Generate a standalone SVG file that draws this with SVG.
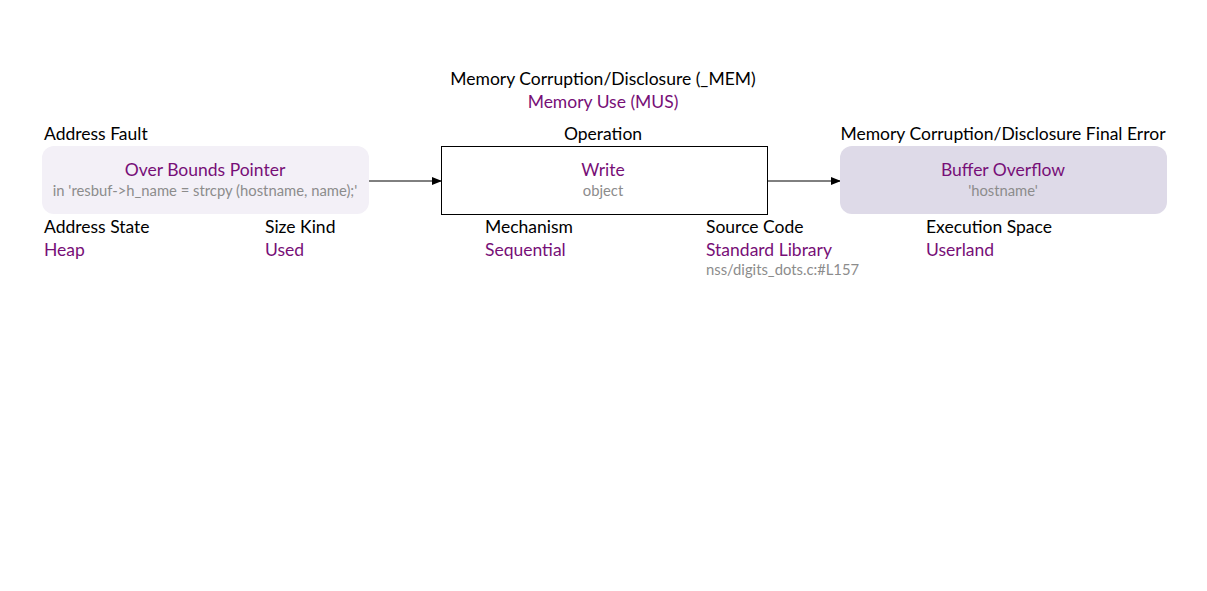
<svg xmlns="http://www.w3.org/2000/svg" width="1207" height="591" viewBox="0 0 1207 591">
<style>
text{font-family:Lato,"Liberation Sans",sans-serif}
.h{font-size:17.5px;fill:#000}
.v{font-size:17.5px;fill:#770f77}
.s{font-size:14.8px;fill:#8c8c8c}
.m{text-anchor:middle}
.c{stroke:#000;stroke-width:1;fill:none}
</style>
<defs>
<marker id="ah" markerWidth="10" markerHeight="8" refX="9" refY="4" orient="auto" markerUnits="userSpaceOnUse">
<path d="M0,0 L10,4 L0,8 Z" fill="#000"/>
</marker>
</defs>
<rect width="1207" height="591" fill="#fff"/>
<g id="header">
<text class="h m" x="603" y="85">Memory Corruption/Disclosure (_MEM)</text>
<text class="v m" x="603" y="108">Memory Use (MUS)</text>
</g>
<g id="connectors">
<line class="c" x1="369" y1="181" x2="441" y2="181" marker-end="url(#ah)"/>
<line class="c" x1="768" y1="181" x2="840" y2="181" marker-end="url(#ah)"/>
</g>
<g id="node-address-fault">
<text class="h" x="44" y="140">Address Fault</text>
<rect x="42" y="146" width="327" height="68" rx="12" fill="#f3f0f7"/>
<text class="v m" x="205" y="176">Over Bounds Pointer</text>
<text class="s m" x="205" y="196">in 'resbuf-&gt;h_name = strcpy (hostname, name);'</text>
<text class="h" x="44" y="233">Address State</text>
<text class="v" x="44" y="256">Heap</text>
<text class="h" x="265" y="233">Size Kind</text>
<text class="v" x="265" y="256">Used</text>
</g>
<g id="node-operation">
<text class="h m" x="603" y="140">Operation</text>
<rect x="441.5" y="146.5" width="326" height="68" fill="#fff" stroke="#000"/>
<text class="v m" x="603" y="176">Write</text>
<text class="s m" x="603" y="196">object</text>
<text class="h" x="485" y="233">Mechanism</text>
<text class="v" x="485" y="256">Sequential</text>
<text class="h" x="706" y="233">Source Code</text>
<text class="v" x="706" y="256">Standard Library</text>
<text class="s" x="706" y="275">nss/digits_dots.c:#L157</text>
</g>
<g id="node-final-error">
<text class="h m" x="1003" y="140">Memory Corruption/Disclosure Final Error</text>
<rect x="840" y="146" width="327" height="68" rx="12" fill="#dedae8"/>
<text class="v m" x="1003" y="176">Buffer Overflow</text>
<text class="s m" x="1003" y="196">'hostname'</text>
<text class="h" x="926" y="233">Execution Space</text>
<text class="v" x="926" y="256">Userland</text>
</g>
</svg>
